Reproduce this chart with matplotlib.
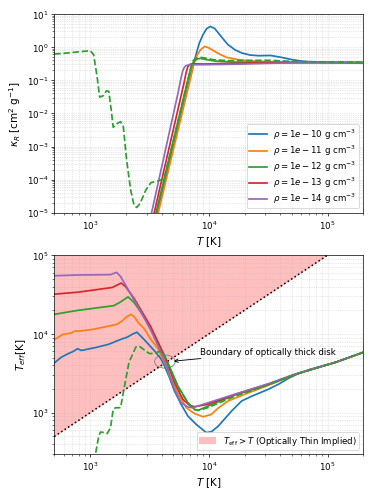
import matplotlib
matplotlib.use("Agg")
import matplotlib.pyplot as plt
from matplotlib.patches import Ellipse

# ---------------- data: top panel (Rosseland opacity) ----------------
labels = [r"$\rho = 1e-10$ g cm$^{-3}$", r"$\rho = 1e-11$ g cm$^{-3}$",
          r"$\rho = 1e-12$ g cm$^{-3}$", r"$\rho = 1e-13$ g cm$^{-3}$",
          r"$\rho = 1e-14$ g cm$^{-3}$"]
colors = ["C0", "C1", "C2", "C3", "C4"]

T_k10 = [3162, 3673, 7586, 8318, 8913, 9550, 10300, 11220, 12020, 13180, 14450,
         16600, 19050, 22390, 26300, 33110, 39810, 50120, 63100, 79430, 200000]
k_10 = [1e-6, 1e-5, 0.417, 1.32, 2.34, 3.55, 4.22, 3.63, 2.69, 1.78, 1.20,
        0.83, 0.66, 0.575, 0.55, 0.56, 0.50, 0.42, 0.37, 0.355, 0.34]

T_k11 = [3214, 3750, 7499, 7943, 8511, 9226, 10000, 11220, 12590, 14130, 17780,
         22910, 39810, 200000]
k_11 = [1e-6, 1e-5, 0.316, 0.56, 0.83, 1.05, 0.95, 0.74, 0.59, 0.49, 0.417,
        0.38, 0.355, 0.34]

T_k12 = [3076, 3589, 6761, 7079, 7413, 7943, 8511, 9333, 11220, 15850, 39810, 200000]
k_12 = [1e-6, 1e-5, 0.126, 0.25, 0.355, 0.437, 0.457, 0.427, 0.38, 0.355, 0.347, 0.34]

T_k13 = [2992, 3467, 6166, 6457, 6683, 6918, 7413, 8913, 15850, 39810, 200000]
k_13 = [1e-6, 1e-5, 0.079, 0.178, 0.263, 0.302, 0.316, 0.309, 0.324, 0.34, 0.34]

T_k14 = [2864, 3296, 5495, 5821, 6026, 6237, 6457, 7079, 8913, 12590, 19950,
         31620, 63100, 200000]
k_14 = [1e-6, 1e-5, 0.04, 0.112, 0.19, 0.25, 0.28, 0.295, 0.295, 0.30, 0.31,
        0.324, 0.34, 0.34]

# low-temperature table (rho = 1e-12), dashed
T_kd = [500, 631, 794, 1005, 1072, 1146, 1205, 1288, 1374, 1439, 1507, 1567,
        1694, 1807, 1905, 2032, 2198, 2344, 2472, 2636, 2951, 3251, 3707, 3981,
        4217, 5012, 6761, 7079, 7413, 7943, 8650, 10000, 10890, 14590, 22910,
        32730, 50120, 100000, 200000]
k_d = [0.62, 0.66, 0.72, 0.78, 0.59, 0.129, 0.031, 0.034, 0.048, 0.046, 0.0129,
       0.0038, 0.005, 0.0056, 0.004, 3.9e-4, 4.9e-5, 1.7e-5, 1.45e-5, 1.9e-5,
       4.9e-5, 8.1e-5, 9.1e-5, 1.0e-4, 1.1e-4, 1.45e-3, 0.126, 0.25, 0.40,
       0.468, 0.49, 0.447, 0.417, 0.39, 0.40, 0.40, 0.37, 0.355, 0.347]

# ---------------- data: bottom panel (effective temperature) ----------------
T_t10 = [500, 573, 653, 721, 783, 847, 1102, 1429, 1807, 2061, 2291, 2483, 2851,
         3467, 3954, 4217, 4656, 5129, 5848, 6668, 7852, 9528, 10520, 11990,
         15560, 18920, 23010, 31920, 38820, 47210, 57410, 70790, 117200, 200000]
t_10 = [4295, 5070, 5610, 6000, 6500, 6180, 6700, 7380, 8510, 9120, 10000, 10520,
        8511, 6166, 4842, 3981, 2812, 1897, 1279, 908, 710, 560, 575, 675,
        1052, 1413, 1622, 1995, 2312, 2754, 3162, 3548, 4375, 5848]

T_t11 = [500, 593, 697, 745, 794, 1030, 1429, 1694, 1871, 2032, 2213, 2350, 2588,
         2851, 3251, 3707, 3954, 4508, 4656, 5483, 6457, 7586, 8954, 10520,
         11990, 14550, 20180, 31920, 53700, 117200, 200000]
t_11 = [8472, 9908, 10300, 10910, 10840, 11380, 12560, 13300, 14690, 16520,
        17740, 16520, 13580, 11690, 8511, 6607, 5370, 3548, 2951, 1778, 1159,
        977, 889, 955, 1148, 1413, 1722, 2244, 3076, 4375, 5848]

T_t12 = [500, 794, 1585, 1778, 2089, 2344, 2851, 3707, 4508, 5483, 6668, 7586,
         8110, 9840, 16600, 31920, 53700, 117200, 200000]
t_12 = [17740, 19950, 22860, 25120, 29510, 25120, 16520, 7889, 4375, 2198, 1343,
        1104, 1072, 1216, 1679, 2291, 3076, 4375, 5848]

T_t13 = [500, 794, 1538, 1832, 1995, 2344, 3251, 4217, 5129, 6039, 6887, 7586,
         9840, 16600, 31920, 53700, 117200, 200000]
t_13 = [32000, 33900, 38900, 44260, 39800, 28380, 12300, 5321, 2427, 1483, 1242,
        1194, 1279, 1706, 2317, 3090, 4375, 5848]

T_t14 = [500, 794, 1486, 1671, 1807, 2061, 2673, 3251, 3954, 4508, 5129, 5848,
         6668, 7345, 8650, 16600, 31920, 53700, 117200, 200000]
t_14 = [54800, 56000, 56600, 60500, 53700, 38100, 19140, 11140, 5875, 3597, 1991,
        1343, 1183, 1159, 1259, 1722, 2344, 3105, 4375, 5848]

T_td = [1072, 1109, 1183, 1222, 1303, 1393, 1486, 1567, 1641, 1807, 1928, 2128,
        2427, 2588, 2851, 3148, 3467, 3828, 4083, 4365, 4508, 5483, 6668, 7586,
        8318, 10000, 16600, 31920, 53700, 117200, 200000]
t_d = [240, 295, 501, 569, 562, 543, 646, 1104, 1159, 1159, 1995, 4365, 6808,
       7015, 6310, 5649, 5649, 6000, 5888, 4786, 4169, 2138, 1318, 1096, 1072,
       1175, 1622, 2265, 3076, 4375, 5848]

T_diag = [500, 100000]

kappa_T = [T_k10, T_k11, T_k12, T_k13, T_k14]
kappa_v = [k_10, k_11, k_12, k_13, k_14]
teff_T = [T_t10, T_t11, T_t12, T_t13, T_t14]
teff_v = [t_10, t_11, t_12, t_13, t_14]

# ---------------- figure ----------------
LW = 2.0
plt.rcParams["axes.labelsize"] = 12
plt.rcParams["xtick.labelsize"] = 10
plt.rcParams["ytick.labelsize"] = 10
fig, (ax1, ax2) = plt.subplots(2, 1, figsize=(6, 8), dpi=373 / 6)
fig.subplots_adjust(left=0.1456, right=0.974, top=0.9712, bottom=0.0865, hspace=0.213)

for Ts, ks, c, lab in zip(kappa_T, kappa_v, colors, labels):
    ax1.plot(Ts, ks, color=c, lw=LW, label=lab)
ax1.plot(T_kd, k_d, color="C2", ls="--", lw=LW)
ax1.set_xscale("log")
ax1.set_yscale("log")
ax1.set_xlim(500, 2e5)
ax1.set_ylim(1e-5, 10)
ax1.set_xlabel(r"$T$ [K]")
ax1.set_ylabel(r"$\kappa_R$ [cm$^2$ g$^{-1}$]")
ax1.grid(True, which="both", ls=":", alpha=0.6)
ax1.legend(loc="lower right", labelspacing=0.2, borderpad=0.3, fontsize=10)

ax2.fill_between(T_diag, T_diag, 1e5, color="red", alpha=0.25, lw=0,
                 label=r"$T_{\rm eff} > T$ (Optically Thin Implied)")
ax2.plot(T_diag, T_diag, "k:", lw=1.8)
for Ts, vs, c in zip(teff_T, teff_v, colors):
    ax2.plot(Ts, vs, color=c, lw=LW)
ax2.plot(T_td, t_d, color="C2", ls="--", lw=LW)
ax2.set_xscale("log")
ax2.set_yscale("log")
ax2.set_xlim(500, 2e5)
ax2.set_ylim(300, 1e5)
ax2.set_xlabel(r"$T$ [K]")
ax2.set_ylabel(r"$T_{eff}$[K]")
ax2.grid(True, which="both", ls=":", alpha=0.6)
ax2.add_patch(Ellipse((0.358, 0.465), 0.067, 0.066, transform=ax2.transAxes,
                      fill=False, edgecolor="gray", lw=1.0))
ax2.annotate("Boundary of optically thick disk", xy=(4900, 4500),
             xytext=(8356, 5878), va="center", fontsize=10,
             arrowprops=dict(arrowstyle="->", color="black"))
ax2.legend(loc="lower right", borderpad=0.25, fontsize=10)

fig.savefig("out.png", dpi=373 / 6)
